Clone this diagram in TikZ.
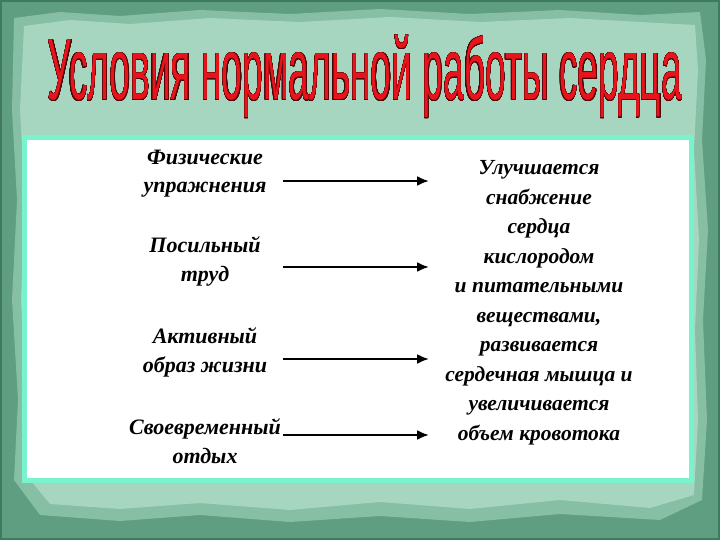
\documentclass[tikz,border=0pt]{standalone}
\usepackage{fontspec}
\usepackage{graphicx}
\usepackage{contour}
\setmainfont{Liberation Serif}
\newfontfamily\titlefont{Liberation Sans}
\contournumber{32}
\definecolor{outerg}{HTML}{5F9E80}
\definecolor{edgeg}{HTML}{3F7C5F}
\definecolor{midg}{HTML}{86BFA3}
\definecolor{lightg}{HTML}{A6D6C0}
\definecolor{frameaq}{HTML}{78F3CB}
\definecolor{titlered}{HTML}{E8141C}
\definecolor{titleline}{HTML}{4A0508}
\usetikzlibrary{arrows.meta}
\tikzset{
  lefttext/.style={align=center, font=\fontsize{22}{28.5}\selectfont\bfseries\itshape, inner sep=0pt, anchor=base},
  righttext/.style={align=center, font=\fontsize{21.5}{29.5}\selectfont\bfseries\itshape, inner sep=0pt, anchor=base},
  arr/.style={line width=2.2pt, -{Latex[length=12pt,width=10pt]}}
}
\begin{document}
\begin{tikzpicture}[x=1pt,y=-1pt]
\useasboundingbox (0,0) rectangle (720,540);
% background
\fill[outerg] (0,0) rectangle (720,540);
\draw[edgeg, line width=2pt] (1,1) rectangle (719,539);
\fill[midg] (14,18) -- (60,12) -- (120,16) -- (200,10) -- (290,14) -- (380,9) -- (470,14) -- (560,10) -- (640,15) -- (700,12)
  -- (706,60) -- (702,140) -- (708,230) -- (703,320) -- (707,420) -- (702,500)
  -- (660,520) -- (560,514) -- (470,522) -- (380,516) -- (290,522) -- (200,515) -- (120,521) -- (40,515)
  -- (14,480) -- (18,400) -- (12,300) -- (17,200) -- (12,110) -- cycle;
\fill[lightg] (24,26) -- (70,20) -- (130,24) -- (210,18) -- (300,22) -- (390,17) -- (480,22) -- (570,18) -- (640,22) -- (695,25)
  -- (698,70) -- (694,150) -- (699,240) -- (695,330) -- (698,420) -- (694,495)
  -- (650,508) -- (560,500) -- (470,509) -- (380,502) -- (290,510) -- (200,503) -- (120,509) -- (50,504)
  -- (22,470) -- (26,400) -- (21,300) -- (25,200) -- (20,110) -- cycle;
% title
\node[anchor=base, inner sep=0pt] (title) at (365,100)
  {\resizebox{634pt}{\height}{\titlefont\fontsize{87}{87}\selectfont\contourlength{0.6pt}\contour{titleline}{\textcolor{titlered}{Условия нормальной работы сердца}}}};
% white box
\draw[frameaq, fill=white, line width=5pt] (24.5,137.5) rectangle (691.5,480);
% left texts (anchored at the baseline of their last line)
\node[lefttext] (l1) at (205,193) {Физические\\упражнения};
\node[lefttext] (l2) at (205,281) {Посильный\\труд};
\node[lefttext] (l3) at (205,372) {Активный\\образ жизни};
\node[lefttext] (l4) at (205,463) {Своевременный\\отдых};
% right text
\node[righttext] (r) at (539,440) {Улучшается\\снабжение\\сердца\\кислородом\\и питательными\\веществами,\\развивается\\сердечная мышца и\\увеличивается\\объем кровотока};
% arrows
\coordinate (s1) at (283,181); \coordinate (e1) at (429,181);
\coordinate (s2) at (283,267); \coordinate (e2) at (429,267);
\coordinate (s3) at (283,359); \coordinate (e3) at (429,359);
\coordinate (s4) at (283,435); \coordinate (e4) at (429,435);
\draw[arr] (s1) -- (e1);
\draw[arr] (s2) -- (e2);
\draw[arr] (s3) -- (e3);
\draw[arr] (s4) -- (e4);
\end{tikzpicture}
\end{document}
